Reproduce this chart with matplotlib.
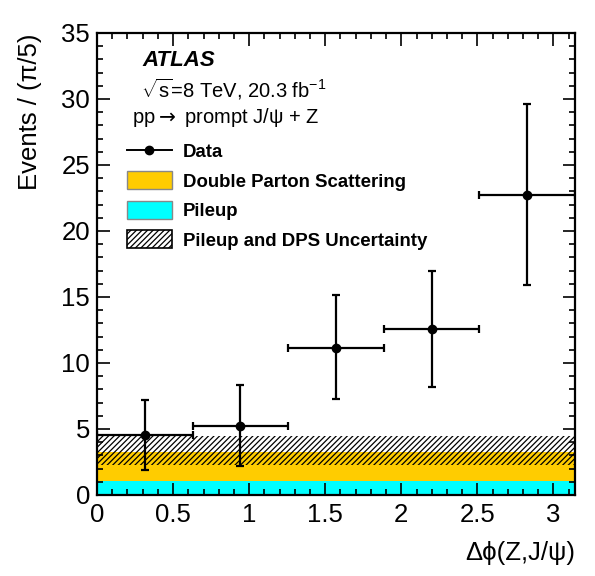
import numpy as np
import matplotlib
matplotlib.use("Agg")
import matplotlib.pyplot as plt
from matplotlib.ticker import MultipleLocator, FormatStrFormatter
from matplotlib.patches import Patch
from matplotlib.lines import Line2D

plt.rcParams['font.family'] = ['Liberation Sans', 'DejaVu Sans']
plt.rcParams['mathtext.fontset'] = 'custom'
plt.rcParams['mathtext.rm'] = 'Liberation Sans'
plt.rcParams['mathtext.it'] = 'Liberation Sans:italic'
plt.rcParams['hatch.linewidth'] = 0.9

# ---- data ----
bin_edges = np.linspace(0, np.pi, 6)
data_y = [4.55, 5.23, 11.16, 12.6, 22.75]
data_lo = [1.89, 2.2, 7.3, 8.2, 15.9]
data_hi = [7.17, 8.33, 15.13, 16.97, 29.6]
pileup = [1.06, 1.06, 1.06, 1.06, 1.06]
dps = [2.17, 2.17, 2.17, 2.17, 2.17]
unc_lo = [2.27, 2.27, 2.27, 2.27, 2.27]
unc_hi = [4.49, 4.49, 4.49, 4.49, 4.49]

centers = 0.5 * (bin_edges[:-1] + bin_edges[1:])
widths = np.diff(bin_edges)
data_y = np.array(data_y)
yerr = [data_y - np.array(data_lo), np.array(data_hi) - data_y]
stack_top = np.array(pileup) + np.array(dps)

fig = plt.figure(figsize=(5.95, 5.76), dpi=100)
ax = fig.add_axes([97/595, 1-495/576, (575-97)/595, (495-33)/576])

orange = '#FFCC00'
cyan = '#00FFFF'

ax.stairs(stack_top, bin_edges, fill=True, color=orange, baseline=0)
ax.stairs(pileup, bin_edges, fill=True, color=cyan, baseline=0)
ax.bar(centers, np.array(unc_hi) - np.array(unc_lo), bottom=unc_lo, width=widths,
       facecolor='none', edgecolor='black', linewidth=0, hatch='//////')

ax.errorbar(centers, data_y, yerr=yerr, xerr=widths/2, fmt='o', color='black',
            ms=6, elinewidth=1.6, capsize=3, capthick=1.6)

ax.set_xlim(0, np.pi)
ax.set_ylim(0, 35)
ax.xaxis.set_major_locator(MultipleLocator(0.5))
ax.xaxis.set_minor_locator(MultipleLocator(0.1))
ax.yaxis.set_major_locator(MultipleLocator(5))
ax.yaxis.set_minor_locator(MultipleLocator(1))
ax.xaxis.set_major_formatter(FormatStrFormatter('%g'))
ax.yaxis.set_major_formatter(FormatStrFormatter('%g'))
ax.tick_params(which='both', direction='in', top=True, right=True, width=1.2)
ax.tick_params(which='major', length=9, labelsize=18.5)
ax.tick_params(which='minor', length=4.5)
ax.tick_params(axis='x', pad=6)
ax.tick_params(axis='y', pad=5)
for s in ax.spines.values():
    s.set_linewidth(1.6)

ax.set_xlabel('Δϕ(Z,J/ψ)', fontsize=18.5, loc='right', labelpad=10)
ax.set_ylabel('Events / (π/5)', fontsize=18.5, loc='top', labelpad=14)

ax.text((142-97)/478, 1-(60-33)/462, 'ATLAS', transform=ax.transAxes, fontsize=16,
        fontweight='bold', fontstyle='italic', va='center', ha='left')
ax.text((141-97)/478, 1-(89-33)/462, r'$\sqrt{\mathrm{s}}$=8 TeV, 20.3 fb$^{-1}$',
        transform=ax.transAxes, fontsize=14.5, va='center', ha='left')
ax.text((132-97)/478, 1-(118-33)/462, r'pp$\rightarrow$ prompt J/ψ + Z', transform=ax.transAxes,
        fontsize=14.5, va='center', ha='left', math_fontfamily='dejavusans')

h_data = Line2D([], [], color='black', marker='o', ms=6, lw=1.4)
h_dps = Patch(facecolor=orange, edgecolor='#888888', linewidth=1)
h_pu = Patch(facecolor=cyan, edgecolor='#888888', linewidth=1)
h_unc = Patch(facecolor='white', edgecolor='black', linewidth=1.2, hatch='//////')
leg = ax.legend([h_data, h_dps, h_pu, h_unc],
                ['Data', 'Double Parton Scattering', 'Pileup', 'Pileup and DPS Uncertainty'],
                loc='upper left', bbox_to_anchor=(127/595, 1-142/576), bbox_transform=fig.transFigure,
                frameon=False, borderpad=0, borderaxespad=0, fontsize=13.4,
                handlelength=2.4, handleheight=1.1, handletextpad=0.6, labelspacing=0.55)
for t in leg.get_texts():
    t.set_fontweight('bold')

fig.savefig('out.png', dpi=100)
